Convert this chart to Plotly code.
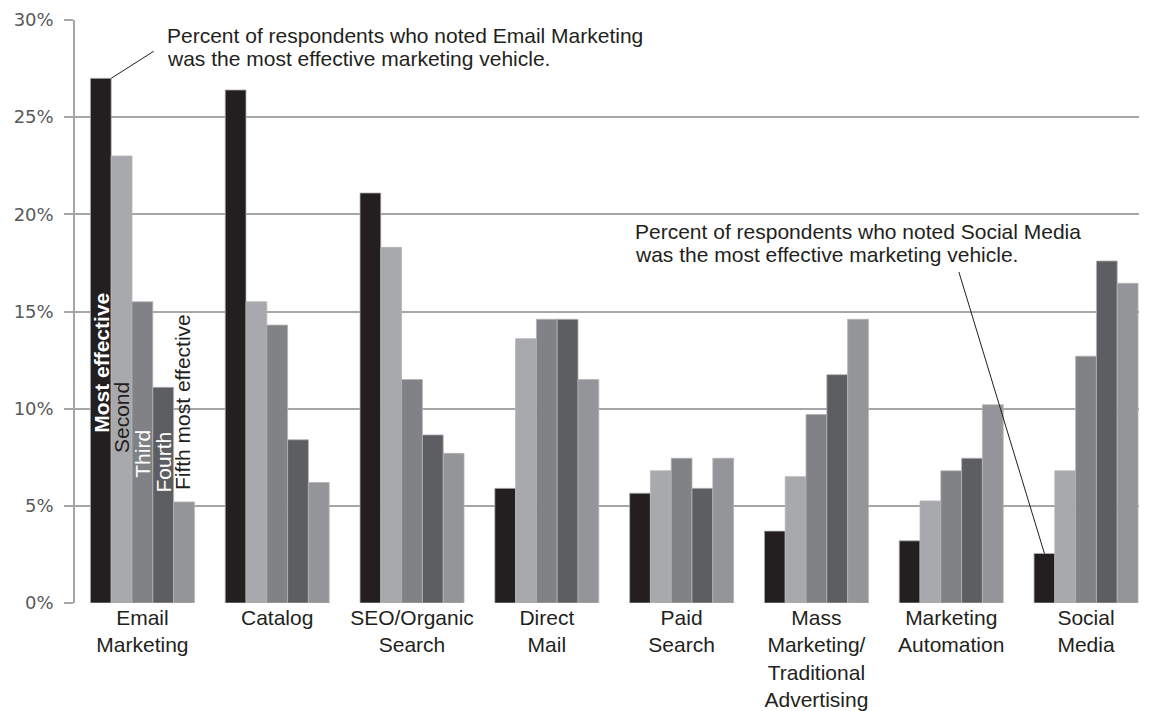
import plotly.graph_objects as go

# Marketing vehicles and the share of respondents ranking each one 1st..5th (percent)
categories = [
    "Email<br>Marketing",
    "Catalog",
    "SEO/Organic<br>Search",
    "Direct<br>Mail",
    "Paid<br>Search",
    "Mass<br>Marketing/<br>Traditional<br>Advertising",
    "Marketing<br>Automation",
    "Social<br>Media",
]
rank_names = ["Most effective", "Second", "Third", "Fourth", "Fifth most effective"]

most_effective = [27.0, 26.4, 21.1, 5.9, 5.65, 3.7, 3.2, 2.55]
second = [23.0, 15.5, 18.3, 13.6, 6.8, 6.5, 5.25, 6.8]
third = [15.5, 14.3, 11.5, 14.6, 7.45, 9.7, 6.8, 12.7]
fourth = [11.1, 8.4, 8.65, 14.6, 5.9, 11.75, 7.45, 17.6]
fifth = [5.2, 6.2, 7.7, 11.5, 7.45, 14.6, 10.2, 16.45]

rank_values = [most_effective, second, third, fourth, fifth]
rank_colors = ["#231f20", "#a8a9ad", "#818286", "#5d5e61", "#949599"]

y_ticks = [0, 5, 10, 15, 20, 25, 30]
y_tick_labels = [f"{v}%" for v in y_ticks]

callout_email = ["Percent of respondents who noted Email Marketing",
                 "was the most effective marketing vehicle."]
callout_social = ["Percent of respondents who noted Social Media",
                  "was the most effective marketing vehicle."]

BARGAP = 0.2285
n_ranks = len(rank_names)
bar_w = (1 - BARGAP) / n_ranks


def bar_offset(rank):
    """Horizontal offset (axis units) of a rank's bar centre inside its group."""
    return (rank - (n_ranks - 1) / 2) * bar_w


x_idx = list(range(len(categories)))

fig = go.Figure()
for name, vals, col in zip(rank_names, rank_values, rank_colors):
    fig.add_trace(go.Bar(
        x=x_idx, y=vals, name=name,
        marker=dict(color=col, line=dict(color="#b4b4b4", width=0.8)),
        hoverinfo="skip",
    ))

text_font = "Liberation Sans, Arial, sans-serif"

# Vertical rank labels written on the Email Marketing bars
rank_label_specs = [
    # (text, rank, centre y, colour, bold)
    ("Most effective", 0, 12.35, "#ffffff", True),
    ("Second", 1, 9.55, "#231f20", False),
    ("Third", 2, 7.70, "#ffffff", False),
    ("Fourth", 3, 7.24, "#ffffff", False),
    ("Fifth most effective", 4, 10.32, "#231f20", False),
]
annotations = []
for txt, rk, yc, col, bold in rank_label_specs:
    annotations.append(dict(
        x=0 + bar_offset(rk) - (0.01 if rk == 4 else 0), y=yc, xref="x", yref="y",
        text=f"<b>{txt}</b>" if bold else txt,
        textangle=-90, showarrow=False,
        xanchor="center", yanchor="middle",
        font=dict(family=text_font, size=21, color=col),
    ))

# Callout texts
for i, line in enumerate(callout_email):
    annotations.append(dict(
        x=0.0846, y=0.973 - i * 0.0385, xref="paper", yref="paper",
        text=line, showarrow=False, xanchor="left", yanchor="middle",
        font=dict(family=text_font, size=21, color="#231f20"),
    ))
for i, line in enumerate(callout_social):
    annotations.append(dict(
        x=0.5244, y=0.638 - i * 0.0395, xref="paper", yref="paper",
        text=line, showarrow=False, xanchor="left", yanchor="middle",
        font=dict(family=text_font, size=21, color="#231f20"),
    ))

# Leader lines from the callouts to the "Most effective" bars
annotations.append(dict(
    x=0 + bar_offset(0) + bar_w / 2, y=most_effective[0], xref="x", yref="y",
    text="", showarrow=True, arrowhead=0, arrowwidth=1, arrowcolor="#231f20",
    ax=44, ay=-28, standoff=0,
))
annotations.append(dict(
    x=7 + bar_offset(0), y=most_effective[7], xref="x", yref="y",
    text="", showarrow=True, arrowhead=0, arrowwidth=1, arrowcolor="#231f20",
    ax=-86, ay=-283, standoff=0,
))

fig.update_layout(
    width=1159, height=711,
    margin=dict(l=75, r=20, t=20, b=108),
    paper_bgcolor="white", plot_bgcolor="white",
    barmode="group", bargap=BARGAP, bargroupgap=0,
    showlegend=False,
    annotations=annotations,
    xaxis=dict(
        range=[-0.5, 7.393],
        tickvals=x_idx, ticktext=categories,
        ticks="", showgrid=False, showline=False, zeroline=False,
        ticklabelstandoff=0, automargin=False,
        tickfont=dict(family=text_font, size=21, color="#231f20"),
    ),
    yaxis=dict(
        range=[0, 30], tickvals=y_ticks, ticktext=y_tick_labels,
        ticks="outside", ticklen=9, tickwidth=1.5, tickcolor="#a6a6a6",
        showline=True, linecolor="#a6a6a6", linewidth=1.5,
        showgrid=True, gridcolor="#a6a6a6", gridwidth=1.5,
        zeroline=False, ticklabelstandoff=7, automargin=False,
        tickfont=dict(family="DejaVu Sans, Verdana, sans-serif", size=18, color="#595959"),
    ),
)

fig.write_html("out.html")
